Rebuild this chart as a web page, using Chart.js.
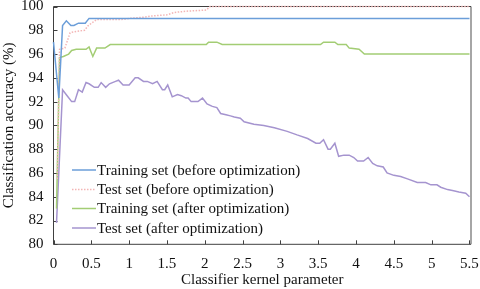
<!DOCTYPE html>
<html lang="en">
<head>
    <meta charset="UTF-8" />
    <title>Classification accuracy vs kernel parameter</title>
    <script src="https://cdn.jsdelivr.net/npm/chart.js@4.4.1/dist/chart.umd.min.js"></script>
    <style>
        html, body { margin: 0; padding: 0; background: #fff; }
        #wrap { width: 480px; height: 289px; }
    </style>
</head>
<body>
    <div id="wrap"><canvas id="accChart" width="480" height="289"></canvas></div>
    <script>
        // tick values
        const xTickValues = [0, 0.5, 1, 1.5, 2, 2.5, 3, 3.5, 4, 4.5, 5, 5.5];
        const yTickValues = [80, 82, 84, 86, 88, 90, 92, 94, 96, 98, 100];

        // Training set (before optimization)
        const trainBeforeX = [0, 0.07, 0.12, 0.17, 0.23, 0.27, 0.33, 0.42, 0.47, 5.5];
        const trainBeforeY = [97.0, 92.3, 98.4, 98.8, 98.4, 98.4, 98.6, 98.6, 99.0, 99.0];

        // Test set (before optimization)
        const testBeforeX = [0.05, 0.08, 0.15, 0.22, 0.3, 0.41, 0.46, 0.57, 0.9, 1.0, 1.2, 1.3, 1.5, 1.6, 1.75, 2.02, 2.07, 5.5];
        const testBeforeY = [85.5, 96.4, 96.5, 97.8, 97.9, 98.0, 98.4, 98.9, 98.9, 99.0, 99.1, 99.2, 99.3, 99.5, 99.6, 99.7, 100, 100];

        // Training set (after optimization)
        const trainAfterX = [0.04, 0.08, 0.13, 0.2, 0.24, 0.3, 0.43, 0.47, 0.52, 0.57, 0.68, 0.75, 2.02, 2.05, 2.16, 2.23, 3.53, 3.57, 3.72, 3.76, 3.87, 3.91, 4.04, 4.11, 5.5];
        const trainAfterY = [83.0, 95.7, 95.8, 96.0, 96.3, 96.4, 96.4, 96.6, 95.8, 96.5, 96.5, 96.8, 96.8, 97.0, 97.0, 96.8, 96.8, 97.0, 97.0, 96.8, 96.8, 96.5, 96.4, 96.0, 96.0];

        // Test set (after optimization)
        const testAfterX = [0.04, 0.12, 0.18, 0.24, 0.28, 0.33, 0.38, 0.43, 0.47, 0.54, 0.59, 0.63, 0.69, 0.74, 0.82, 0.86, 0.92, 1.0, 1.08, 1.12,
            1.19, 1.24, 1.31, 1.37, 1.44, 1.47, 1.51, 1.57, 1.64, 1.69, 1.75, 1.78, 1.82, 1.91, 1.97, 2.03, 2.1, 2.16, 2.21, 2.28,
            2.34, 2.39, 2.47, 2.52, 2.65, 2.78, 2.92, 3.09, 3.22, 3.36, 3.47, 3.52, 3.57, 3.63, 3.66, 3.72, 3.77, 3.84, 3.91, 3.97,
            4.02, 4.1, 4.16, 4.22, 4.28, 4.36, 4.41, 4.5, 4.59, 4.68, 4.81, 4.92, 4.99, 5.07, 5.12, 5.21, 5.29, 5.36, 5.45, 5.5];
        const testAfterY = [81.8, 93.0, 92.5, 92.0, 92.0, 93.0, 92.8, 93.6, 93.5, 93.2, 93.2, 93.6, 93.2, 93.5, 93.7, 93.8, 93.4, 93.4, 94.0, 94.0,
            93.7, 93.7, 93.5, 93.7, 93.0, 93.0, 93.4, 92.4, 92.6, 92.5, 92.3, 92.3, 92.0, 92.0, 92.3, 91.8, 91.6, 91.5, 91.0, 90.9,
            90.8, 90.7, 90.6, 90.3, 90.1, 90.0, 89.8, 89.5, 89.2, 88.9, 88.5, 88.5, 88.8, 88.0, 88.0, 88.5, 87.4, 87.5, 87.5, 87.3,
            87.0, 87.0, 87.3, 86.8, 86.6, 86.5, 86.0, 85.8, 85.7, 85.5, 85.2, 85.2, 85.0, 85.0, 84.8, 84.6, 84.5, 84.4, 84.3, 84.0];

        const toPoints = (xs, ys) => xs.map((x, i) => ({ x: x, y: ys[i] }));
        const FONT = "'Liberation Serif', 'Times New Roman', serif";

        // okvir i unutarnje crtice na osima
        const framePlugin = {
            id: 'frame',
            beforeDatasetsDraw(chart) {
                const { ctx, chartArea: a, scales } = chart;
                ctx.save();
                ctx.strokeStyle = '#a6a6a6';
                ctx.lineWidth = 2;
                ctx.beginPath();
                ctx.moveTo(a.right, a.top);
                ctx.lineTo(a.right, a.bottom);
                ctx.stroke();
                ctx.strokeStyle = '#404040';
                ctx.lineWidth = 1;
                ctx.beginPath();
                ctx.moveTo(a.left, a.top);
                ctx.lineTo(a.right, a.top);
                ctx.moveTo(a.left, a.top);
                ctx.lineTo(a.left, a.bottom);
                ctx.lineTo(a.right, a.bottom);
                xTickValues.forEach(v => {
                    const px = Math.round(scales.x.getPixelForValue(v)) + 0.5;
                    ctx.moveTo(px, a.bottom);
                    ctx.lineTo(px, a.bottom - 4);
                });
                yTickValues.forEach(v => {
                    const py = Math.round(scales.y.getPixelForValue(v)) + 0.5;
                    ctx.moveTo(a.left, py);
                    ctx.lineTo(a.left + 4, py);
                });
                ctx.stroke();
                ctx.restore();
            },
            afterDraw(chart) {
                // legenda unutar grafa, dolje lijevo
                const { ctx } = chart;
                const rows = [170, 189.5, 208.5, 228];
                ctx.save();
                ctx.font = '15px ' + FONT;
                ctx.textBaseline = 'middle';
                ctx.fillStyle = '#111';
                chart.data.datasets.forEach((ds, i) => {
                    ctx.strokeStyle = ds.borderColor;
                    ctx.lineWidth = ds.borderWidth;
                    ctx.setLineDash(ds.borderDash || []);
                    ctx.beginPath();
                    ctx.moveTo(72, rows[i]);
                    ctx.lineTo(96, rows[i]);
                    ctx.stroke();
                    ctx.setLineDash([]);
                    ctx.fillText(ds.label, 97, rows[i] + 1);
                });
                ctx.restore();
            }
        };

        const lineDs = (label, data, color, extra) => Object.assign({
            label: label,
            data: data,
            borderColor: color,
            backgroundColor: color,
            borderWidth: 1.5,
            pointRadius: 0,
            tension: 0,
            fill: false,
            clip: 4
        }, extra || {});

        new Chart(document.getElementById('accChart'), {
            type: 'line',
            data: {
                datasets: [
                    lineDs('Training set (before optimization)', toPoints(trainBeforeX, trainBeforeY), '#6b9ed9'),
                    lineDs('Test set (before optimization)', toPoints(testBeforeX, testBeforeY), '#f3b5b5', { borderDash: [1.5, 1.5] }),
                    lineDs('Training set (after optimization)', toPoints(trainAfterX, trainAfterY), '#a3cd74'),
                    lineDs('Test set (after optimization)', toPoints(testAfterX, testAfterY), '#a594cf')
                ]
            },
            options: {
                responsive: false,
                animation: false,
                layout: { padding: { top: 6.5, right: 9, left: 0, bottom: 0 } },
                plugins: { legend: { display: false }, tooltip: { enabled: false } },
                scales: {
                    x: {
                        type: 'linear',
                        min: 0,
                        max: 5.52,
                        afterBuildTicks: s => { s.ticks = xTickValues.map(v => ({ value: v })); },
                        afterFit: s => { s.height = 44.7; s.paddingLeft = 0; s.paddingRight = 0; },
                        grid: { display: false, drawTicks: false },
                        border: { display: false },
                        ticks: { padding: 11, color: '#111', font: { family: FONT, size: 15 }, maxRotation: 0, autoSkip: false,
                            callback: v => String(v) },
                        title: { display: true, text: 'Classifier kernel parameter', color: '#111',
                            font: { family: FONT, size: 15 }, padding: { top: 0, bottom: 0 } }
                    },
                    y: {
                        min: 80,
                        max: 100,
                        afterBuildTicks: s => { s.ticks = yTickValues.map(v => ({ value: v })); },
                        afterFit: s => { s.width = 53.5; s.paddingTop = 0; s.paddingBottom = 0; },
                        grid: { display: false, drawTicks: false },
                        border: { display: false },
                        ticks: { padding: 10, color: '#111', font: { family: FONT, size: 15 }, callback: v => String(v) },
                        title: { display: true, text: 'Classification accuracy (%)', color: '#111',
                            font: { family: FONT, size: 15 }, padding: { top: 0, bottom: 0 } }
                    }
                }
            },
            plugins: [framePlugin]
        });
    </script>
</body>
</html>
